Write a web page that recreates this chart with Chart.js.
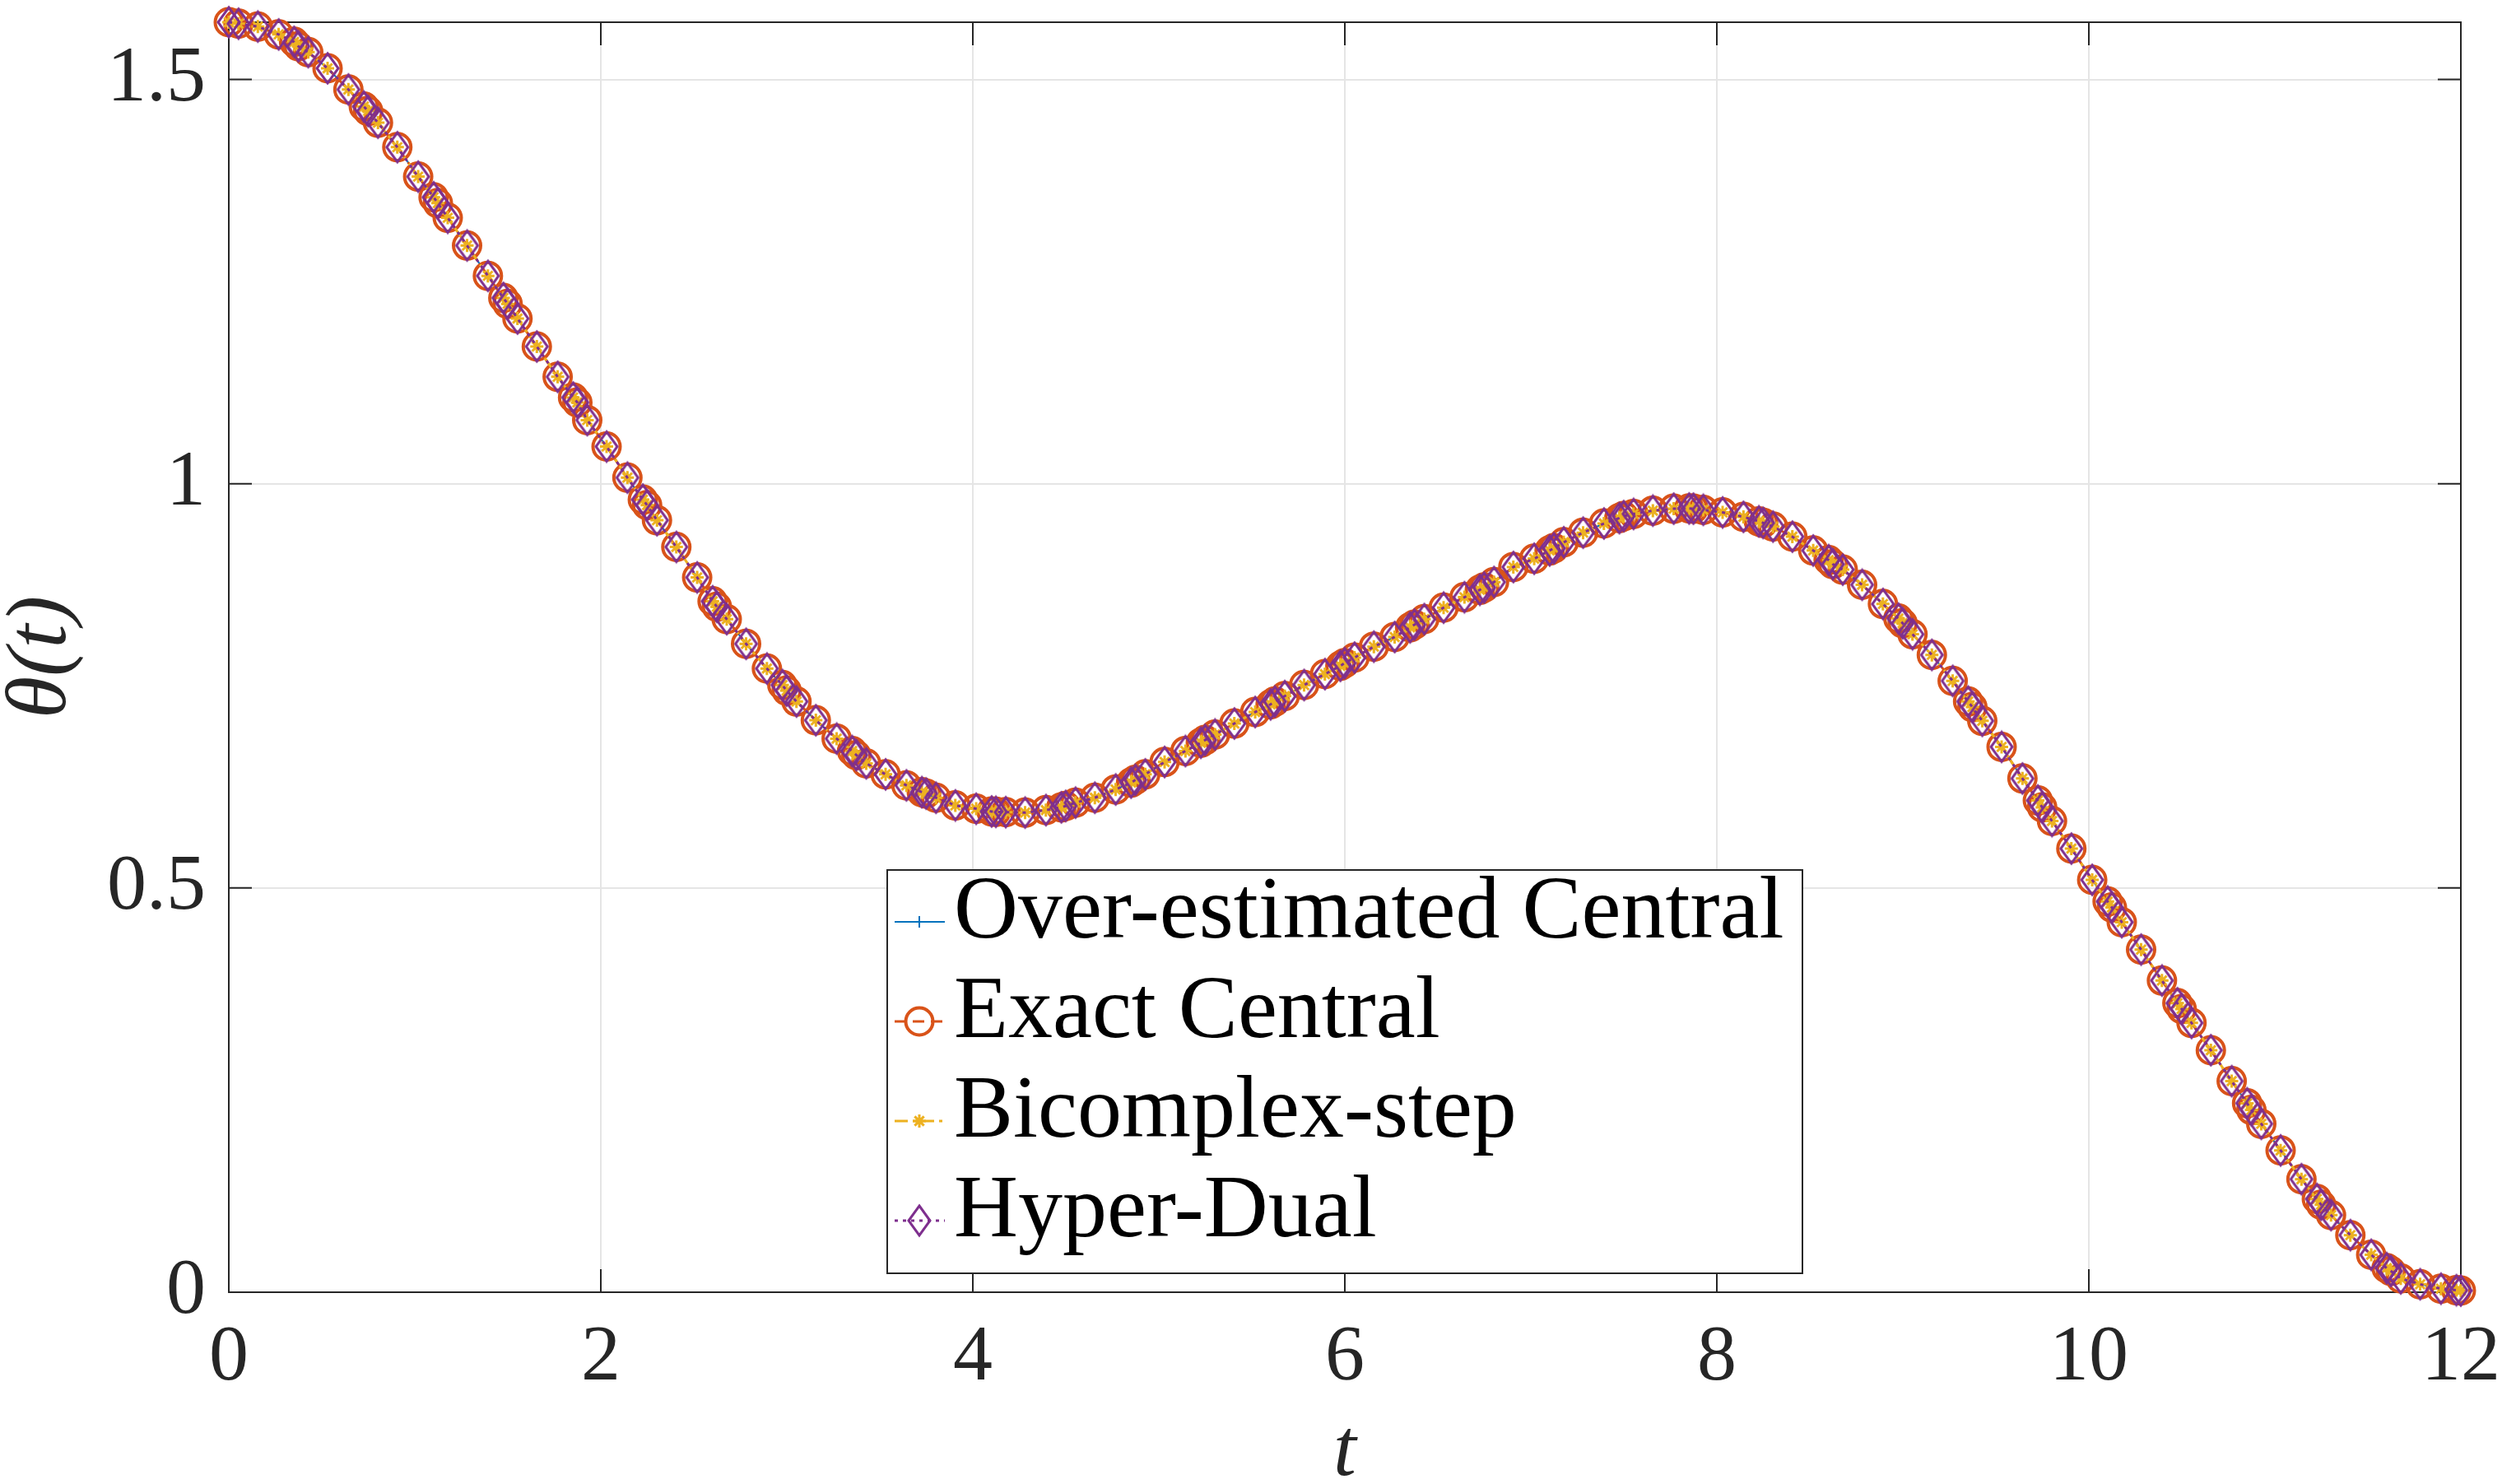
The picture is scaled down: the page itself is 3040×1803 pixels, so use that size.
<!DOCTYPE html>
<html>
<head>
<meta charset="utf-8">
<title>theta(t)</title>
<script src="https://cdn.jsdelivr.net/npm/chart.js"></script>
<style>
  html, body { margin: 0; padding: 0; background: #fff; }
  #plot { display: block; }
</style>
</head>
<body>
<canvas id="plot" width="3040" height="1803"></canvas>
<script>
// time samples
const tValues = [
    0, 0.052,
    0.156, 0.268, 0.351, 0.374, 0.427,
    0.531, 0.643, 0.726, 0.749, 0.802,
    0.906, 1.018, 1.101, 1.124, 1.177,
    1.281, 1.393, 1.476, 1.499, 1.552,
    1.656, 1.768, 1.851, 1.874, 1.927,
    2.031, 2.143, 2.226, 2.249, 2.302,
    2.406, 2.518, 2.601, 2.624, 2.677,
    2.781, 2.893, 2.976, 2.999, 3.052,
    3.156, 3.268, 3.351, 3.374, 3.427,
    3.531, 3.643, 3.726, 3.749, 3.802,
    3.906, 4.018, 4.101, 4.124, 4.177,
    4.281, 4.393, 4.476, 4.499, 4.552,
    4.656, 4.768, 4.851, 4.874, 4.927,
    5.031, 5.143, 5.226, 5.249, 5.302,
    5.406, 5.518, 5.601, 5.624, 5.677,
    5.781, 5.893, 5.976, 5.999, 6.052,
    6.156, 6.268, 6.351, 6.374, 6.427,
    6.531, 6.643, 6.726, 6.749, 6.802,
    6.906, 7.018, 7.101, 7.124, 7.177,
    7.281, 7.393, 7.476, 7.499, 7.552,
    7.656, 7.768, 7.851, 7.874, 7.927,
    8.031, 8.143, 8.226, 8.249, 8.302,
    8.406, 8.518, 8.601, 8.624, 8.677,
    8.781, 8.893, 8.976, 8.999, 9.052,
    9.156, 9.268, 9.351, 9.374, 9.427,
    9.531, 9.643, 9.726, 9.749, 9.802,
    9.906, 10.018, 10.101, 10.124, 10.177,
    10.281, 10.393, 10.476, 10.499, 10.552,
    10.656, 10.768, 10.851, 10.874, 10.927,
    11.031, 11.143, 11.226, 11.249, 11.302,
    11.406, 11.518, 11.601, 11.624, 11.677,
    11.781, 11.893, 11.976, 12.0
];

// theta(t) - all four methods lie on top of each other
const thetaValues = [
    1.5708, 1.569,
    1.5654, 1.5557, 1.5465, 1.541, 1.5338,
    1.5138, 1.4876, 1.4665, 1.461, 1.4465,
    1.4162, 1.3798, 1.3543, 1.347, 1.3289,
    1.2946, 1.2571, 1.2298, 1.2225, 1.2043,
    1.1697, 1.1322, 1.1067, 1.1005, 1.0787,
    1.046, 1.0075, 0.9803, 0.9735, 0.9548,
    0.9218, 0.8841, 0.8546, 0.8478, 0.8325,
    0.802, 0.7714, 0.751, 0.7441, 0.7306,
    0.7074, 0.6847, 0.6694, 0.6643, 0.6541,
    0.6405, 0.6269, 0.6185, 0.6167, 0.6116,
    0.6021, 0.598, 0.5946, 0.5942, 0.5938,
    0.5932, 0.5963, 0.5997, 0.6014, 0.6055,
    0.6116, 0.6218, 0.6303, 0.6337, 0.6405,
    0.6558, 0.6694, 0.6796, 0.683, 0.6898,
    0.7034, 0.7176, 0.7271, 0.7306, 0.7373,
    0.751, 0.7645, 0.7747, 0.7781, 0.7849,
    0.7985, 0.8104, 0.8223, 0.8257, 0.8325,
    0.8467, 0.8596, 0.8688, 0.8716, 0.8784,
    0.897, 0.9072, 0.9174, 0.9202, 0.9276,
    0.9395, 0.9508, 0.9575, 0.9599, 0.9626,
    0.9667, 0.9691, 0.9694, 0.9691, 0.9677,
    0.9645, 0.959, 0.9535, 0.9515, 0.947,
    0.9345, 0.9174, 0.9055, 0.9004, 0.8937,
    0.875, 0.8512, 0.8332, 0.8274, 0.8138,
    0.7883, 0.7561, 0.7306, 0.7237, 0.7067,
    0.6745, 0.6354, 0.6082, 0.5997, 0.5828,
    0.5487, 0.510, 0.4832, 0.4758, 0.4577,
    0.4238, 0.3855, 0.3575, 0.3503, 0.3331,
    0.2993, 0.2611, 0.2337, 0.2254, 0.2083,
    0.1754, 0.1398, 0.1154, 0.1082, 0.0954,
    0.0706, 0.0463, 0.0299, 0.0262, 0.0171,
    0.0098, 0.0044, 0.0025, 0.002
];

const seriesNames = ['Over-estimated Central', 'Exact Central', 'Bicomplex-step', 'Hyper-Dual'];
const xTicks = [0, 2, 4, 6, 8, 10, 12];
const yTicks = [0, 0.5, 1, 1.5];
const yMax = 1.5708;

const SERIF = '"Liberation Serif", "Times New Roman", serif';
const AXIS_COLOR = '#262626';

// hollow diamond, a bit taller than wide like matlab's 'd'
function makeDiamond(color) {
    const c = document.createElement('canvas');
    c.width = 34;
    c.height = 42;
    const g = c.getContext('2d');
    g.strokeStyle = color;
    g.lineWidth = 3;
    g.beginPath();
    g.moveTo(17, 3);
    g.lineTo(30, 21);
    g.lineTo(17, 39);
    g.lineTo(4, 21);
    g.closePath();
    g.stroke();
    return c;
}

const styles = [
    {color: '#0072BD', dash: [], width: 2, point: 'cross', radius: 7, pointWidth: 2},
    {color: '#D95319', dash: [14, 8], width: 3, point: 'circle', radius: 16.5, pointWidth: 4},
    {color: '#EDB120', dash: [16, 6, 4, 6], width: 3, point: 'star', radius: 8, pointWidth: 3},
    {color: '#7E2F8E', dash: [4, 6], width: 3, point: makeDiamond('#7E2F8E'), radius: 18, pointWidth: 3}
];

const datasets = seriesNames.map((name, i) => ({
    label: name,
    data: tValues.map((t, j) => ({x: t, y: thetaValues[j]})),
    borderColor: styles[i].color,
    borderWidth: styles[i].width,
    borderDash: styles[i].dash,
    backgroundColor: 'rgba(0,0,0,0)',
    pointStyle: styles[i].point,
    pointRadius: styles[i].radius,
    pointBorderWidth: styles[i].pointWidth,
    pointBorderColor: styles[i].color,
    pointBackgroundColor: 'rgba(0,0,0,0)',
    fill: false,
    tension: 0,
    clip: false,
    order: 3 - i
}));

// box around the axes plus inward ticks on all four sides
const axesFrame = {
    id: 'axesFrame',
    beforeDatasetsDraw(chart) {
        const {ctx, chartArea: a, scales: {x, y}} = chart;
        const len = 28;
        ctx.save();
        ctx.strokeStyle = AXIS_COLOR;
        ctx.lineWidth = 2;
        ctx.strokeRect(a.left, a.top, a.right - a.left, a.bottom - a.top);
        ctx.beginPath();
        xTicks.forEach(v => {
            const px = x.getPixelForValue(v);
            ctx.moveTo(px, a.bottom);
            ctx.lineTo(px, a.bottom - len);
            ctx.moveTo(px, a.top);
            ctx.lineTo(px, a.top + len);
        });
        yTicks.forEach(v => {
            const py = y.getPixelForValue(v);
            ctx.moveTo(a.left, py);
            ctx.lineTo(a.left + len, py);
            ctx.moveTo(a.right, py);
            ctx.lineTo(a.right - len, py);
        });
        ctx.stroke();
        ctx.restore();
    }
};

function drawMarker(ctx, st, cx, cy) {
    ctx.save();
    ctx.strokeStyle = st.color;
    ctx.lineWidth = st.pointWidth;
    ctx.setLineDash([]);
    const r = st.radius;
    ctx.beginPath();
    if (st.point === 'circle') {
        ctx.arc(cx, cy, r, 0, Math.PI * 2);
    } else if (st.point === 'cross') {
        ctx.moveTo(cx - r, cy); ctx.lineTo(cx + r, cy);
        ctx.moveTo(cx, cy - r); ctx.lineTo(cx, cy + r);
    } else if (st.point === 'star') {
        const d = r * Math.SQRT1_2;
        ctx.moveTo(cx - r, cy); ctx.lineTo(cx + r, cy);
        ctx.moveTo(cx, cy - r); ctx.lineTo(cx, cy + r);
        ctx.moveTo(cx - d, cy - d); ctx.lineTo(cx + d, cy + d);
        ctx.moveTo(cx - d, cy + d); ctx.lineTo(cx + d, cy - d);
    } else {
        ctx.drawImage(st.point, cx - st.point.width / 2, cy - st.point.height / 2);
    }
    ctx.stroke();
    ctx.restore();
}

// matlab style legend sitting inside the axes
const insideLegend = {
    id: 'insideLegend',
    afterDraw(chart) {
        const ctx = chart.ctx;
        const box = {x: 1078, y: 1057, w: 1112, h: 490};
        const rowTop = 1120, rowGap = 121;
        ctx.save();
        ctx.fillStyle = '#ffffff';
        ctx.fillRect(box.x, box.y, box.w, box.h);
        ctx.strokeStyle = AXIS_COLOR;
        ctx.lineWidth = 2;
        ctx.strokeRect(box.x, box.y, box.w, box.h);
        chart.data.datasets.forEach((ds, i) => {
            const st = styles[i];
            const ry = rowTop + i * rowGap;
            ctx.strokeStyle = st.color;
            ctx.lineWidth = st.width;
            ctx.setLineDash(st.dash);
            ctx.beginPath();
            ctx.moveTo(box.x + 9, ry);
            ctx.lineTo(box.x + 70, ry);
            ctx.stroke();
            ctx.setLineDash([]);
            drawMarker(ctx, st, box.x + 39, ry);
            ctx.fillStyle = '#000000';
            ctx.font = '108px ' + SERIF;
            ctx.textBaseline = 'middle';
            ctx.textAlign = 'left';
            ctx.fillText(ds.label, box.x + 81, ry - 9);
        });
        ctx.restore();
    }
};

// drop the extra room chart.js keeps for half tick labels at the ends
function noEdgePadding(s) {
    s.paddingTop = 0;
    s.paddingBottom = 0;
    s.paddingLeft = 0;
    s.paddingRight = 0;
}

new Chart(document.getElementById('plot'), {
    type: 'line',
    data: {datasets: datasets},
    options: {
        responsive: false,
        animation: false,
        layout: {autoPadding: false, padding: {top: 27, right: 50, bottom: 0, left: 0}},
        plugins: {
            legend: {display: false},
            tooltip: {enabled: false}
        },
        scales: {
            x: {
                type: 'linear',
                min: 0,
                max: 12,
                afterBuildTicks: s => { s.ticks = xTicks.map(v => ({value: v})); },
                afterFit: s => { s.height = 233; noEdgePadding(s); },
                grid: {color: '#e5e5e5', lineWidth: 2, drawTicks: false},
                border: {display: false},
                ticks: {
                    font: {family: SERIF, size: 96},
                    color: AXIS_COLOR,
                    padding: 23,
                    maxRotation: 0,
                    autoSkip: false,
                    callback: v => String(v)
                },
                title: {
                    display: true,
                    text: 't',
                    color: AXIS_COLOR,
                    font: {family: SERIF, size: 100, style: 'italic', lineHeight: 0.74},
                    padding: 0
                }
            },
            y: {
                type: 'linear',
                min: 0,
                max: yMax,
                afterBuildTicks: s => { s.ticks = yTicks.map(v => ({value: v})); },
                afterFit: s => { s.width = 278; noEdgePadding(s); },
                grid: {color: '#e5e5e5', lineWidth: 2, drawTicks: false},
                border: {display: false},
                ticks: {
                    font: {family: SERIF, size: 96},
                    color: AXIS_COLOR,
                    padding: 28,
                    callback: v => String(v)
                },
                title: {
                    display: true,
                    text: 'θ(t)',
                    color: AXIS_COLOR,
                    font: {family: SERIF, size: 104, style: 'italic', lineHeight: 1},
                    padding: 0
                }
            }
        }
    },
    plugins: [axesFrame, insideLegend]
});
</script>
</body>
</html>
